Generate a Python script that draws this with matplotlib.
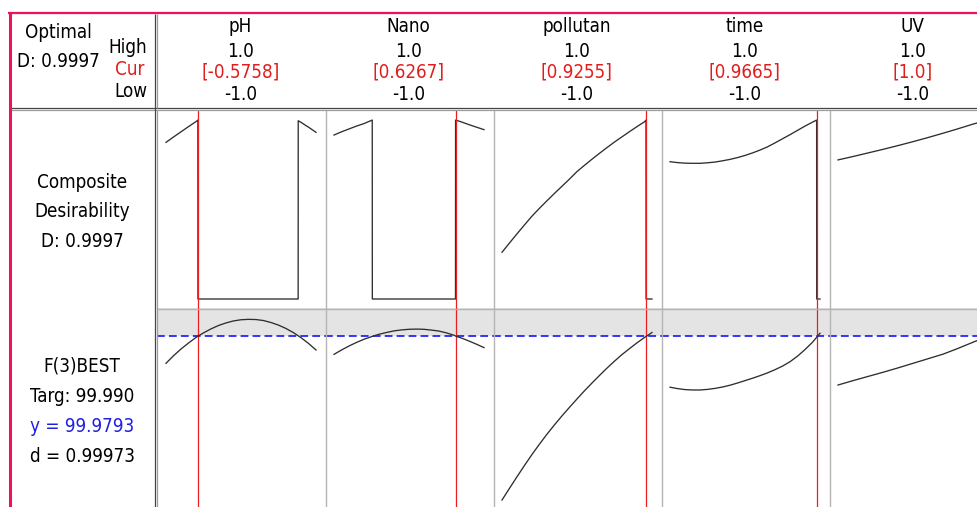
import matplotlib
matplotlib.use("Agg")
import matplotlib.pyplot as plt
from matplotlib.lines import Line2D

plt.rcParams['lines.scale_dashes'] = False

# ---------------- data ----------------
factors = ["pH", "Nano", "pollutan", "time", "UV"]
high = [1.0, 1.0, 1.0, 1.0, 1.0]
low = [-1.0, -1.0, -1.0, -1.0, -1.0]
cur = [-0.5758, 0.6267, 0.9255, 0.9665, 1.0]
cur_labels = ["[-0.5758]", "[0.6267]", "[0.9255]", "[0.9665]", "[1.0]"]

composite_D = 0.9997
response_name = "F(3)BEST"
target = 99.990
y_pred = 99.9793
d_resp = 0.99973

# composite desirability traces (factor setting, desirability)
pH_dx = [-1.0, -0.9, -0.8, -0.7, -0.6, -0.575, -0.574, 0.762, 0.763, 0.8, 0.876, 0.9, 1.0]
pH_dy = [0.875, 0.905, 0.934, 0.963, 0.991, 0.9997, 0.0, 0.0, 0.996, 0.987, 0.966, 0.960, 0.931]
nano_dx = [-1.0, -0.9, -0.8, -0.7, -0.6, -0.49, -0.489, 0.62, 0.621, 0.7, 0.8, 0.9, 1.0]
nano_dy = [0.916, 0.934, 0.950, 0.966, 0.980, 0.9997, 0.0, 0.0, 0.9997, 0.989, 0.974, 0.960, 0.946]
poll_dx = [-1.0, -0.9, -0.8, -0.7, -0.6, -0.5, -0.4, -0.3, -0.2, -0.1, 0.0,
           0.1, 0.2, 0.3, 0.4, 0.5, 0.6, 0.7, 0.8, 0.9, 0.92, 0.921, 1.0]
poll_dy = [0.261, 0.313, 0.364, 0.414, 0.463, 0.507, 0.549, 0.590, 0.630, 0.670, 0.712,
           0.747, 0.781, 0.814, 0.846, 0.877, 0.906, 0.935, 0.963, 0.990, 0.9997, 0.0, 0.0]
time_dx = [-1.0, -0.9, -0.8, -0.7, -0.6, -0.5, -0.4, -0.3, -0.2, -0.1, 0.0,
           0.1, 0.2, 0.3, 0.4, 0.5, 0.6, 0.7, 0.8, 0.9, 0.955, 0.956, 1.0]
time_dy = [0.767, 0.762, 0.759, 0.758, 0.758, 0.761, 0.765, 0.772, 0.780, 0.790, 0.802,
           0.816, 0.832, 0.850, 0.872, 0.895, 0.918, 0.942, 0.966, 0.988, 0.9997, 0.0, 0.0]
uv_dx = [-1.0, -0.8, -0.6, -0.4, -0.2, 0.0, 0.2, 0.4, 0.6, 0.8, 1.0]
uv_dy = [0.777, 0.796, 0.816, 0.836, 0.857, 0.879, 0.902, 0.926, 0.951, 0.977, 0.9997]

# predicted response traces (factor setting, F(3)BEST)
pH_rx = [-1.0, -0.9, -0.8, -0.7, -0.6, -0.5758, -0.5, -0.4, -0.3, -0.2, -0.1, 0.0,
         0.1, 0.2, 0.3, 0.4, 0.5, 0.6, 0.7, 0.8, 0.9, 1.0]
pH_ry = [98.62, 99.00, 99.34, 99.64, 99.92, 99.98, 100.15, 100.35, 100.52, 100.65, 100.75, 100.81,
         100.83, 100.82, 100.77, 100.67, 100.54, 100.37, 100.16, 99.91, 99.62, 99.29]
nano_rx = [-1.0, -0.9, -0.8, -0.7, -0.6, -0.5, -0.4, -0.3, -0.2, -0.1, 0.0,
           0.1, 0.2, 0.3, 0.4, 0.5, 0.6, 0.6267, 0.7, 0.8, 0.9, 1.0]
nano_ry = [99.07, 99.29, 99.49, 99.67, 99.83, 99.96, 100.08, 100.17, 100.25, 100.30, 100.33,
           100.34, 100.33, 100.29, 100.24, 100.15, 100.03, 99.98, 99.89, 99.74, 99.58, 99.41]
poll_rx = [-1.0, -0.9, -0.8, -0.7, -0.6, -0.5, -0.4, -0.3, -0.2, -0.1, 0.0,
           0.1, 0.2, 0.3, 0.4, 0.5, 0.6, 0.7, 0.8, 0.9, 0.9255, 1.0]
poll_ry = [91.75, 92.34, 92.92, 93.49, 94.04, 94.56, 95.06, 95.53, 95.98, 96.41, 96.83,
           97.24, 97.63, 98.01, 98.38, 98.73, 99.06, 99.36, 99.65, 99.92, 99.98, 100.17]
time_rx = [-1.0, -0.9, -0.8, -0.7, -0.6, -0.5, -0.4, -0.3, -0.2, -0.1, 0.0,
           0.1, 0.2, 0.3, 0.4, 0.5, 0.6, 0.7, 0.8, 0.9, 0.9665, 1.0]
time_ry = [97.42, 97.35, 97.30, 97.28, 97.28, 97.31, 97.36, 97.43, 97.52, 97.63, 97.75,
           97.87, 98.00, 98.14, 98.30, 98.48, 98.70, 98.98, 99.31, 99.68, 99.98, 100.13]
uv_rx = [-1.0, -0.8, -0.6, -0.4, -0.2, 0.0, 0.2, 0.4, 0.6, 0.8, 1.0]
uv_ry = [97.53, 97.75, 97.96, 98.17, 98.39, 98.62, 98.85, 99.08, 99.37, 99.68, 99.98]

desir_x = [pH_dx, nano_dx, poll_dx, time_dx, uv_dx]
desir_y = [pH_dy, nano_dy, poll_dy, time_dy, uv_dy]
resp_x = [pH_rx, nano_rx, poll_rx, time_rx, uv_rx]
resp_y = [pH_ry, nano_ry, poll_ry, time_ry, uv_ry]

# ---------------- layout ----------------
W, H = 977, 507
fig = plt.figure(figsize=(W / 100, H / 100), dpi=100)
FONT = dict(family="DejaVu Sans", stretch="condensed", size=13.5)
RED = "#e01e1e"
BLUE = "#2020e0"
CURVE = "#2e2e2e"


def rect(x0, y0, x1, y1):
    return [x0 / W, 1 - y1 / H, (x1 - x0) / W, (y1 - y0) / H]


def clean(ax):
    ax.set_xticks([])
    ax.set_yticks([])
    for s in ax.spines.values():
        s.set_visible(False)
    ax.patch.set_alpha(0)


panel_w = 168
lefts = [157 + i * panel_w for i in range(5)]
xlim = (-1.12, 1.12)
dlim = (-9 / 179, 1 + 10 / 179)
rlim = (91.4, 101.4)

for i in range(5):
    l = lefts[i]
    axd = fig.add_axes(rect(l, 110, l + panel_w, 308))
    clean(axd)
    axd.set_xlim(*xlim)
    axd.set_ylim(*dlim)
    axd.plot(desir_x[i], desir_y[i], color=CURVE, lw=0.95, zorder=2)
    axd.axvline(cur[i], color="#ee1c1c", lw=0.9, zorder=3)

    axr = fig.add_axes(rect(l, 308, l + panel_w, 507))
    clean(axr)
    axr.set_xlim(*xlim)
    axr.set_ylim(*rlim)
    axr.axhspan(y_pred, rlim[1], color="#e4e4e4", lw=0, zorder=0)
    axr.axhline(y_pred, color="#1414ff", lw=1.2, linestyle=(0, (5.6, 3.0)), zorder=2)
    axr.axvline(cur[i], color="#ee1c1c", lw=0.9, zorder=3)
    axr.plot(resp_x[i], resp_y[i], color=CURVE, lw=0.95, zorder=4)

# overlay in pixel coordinates for frame lines and text
ov = fig.add_axes([0, 0, 1, 1], zorder=10)
ov.set_xlim(0, W)
ov.set_ylim(H, 0)
ov.set_axis_off()


def hline(y, x0, x1, c, lw):
    ov.add_line(Line2D([x0, x1], [y, y], color=c, lw=lw, solid_capstyle="butt"))


def vline(x, y0, y1, c, lw):
    ov.add_line(Line2D([x, x], [y0, y1], color=c, lw=lw, solid_capstyle="butt"))


# panel separators
for l in lefts[1:]:
    vline(l + 0.5, 110, H, "#b4b4b4", 1.0)
hline(308.5, 157, W, "#b4b4b4", 1.0)
# double lines
hline(107.5, 11, W, "#454545", 0.9)
hline(110.2, 11, W, "#9c9c9c", 0.9)
vline(154.5, 14, H, "#454545", 0.9)
vline(156.8, 110, H, "#9c9c9c", 0.9)
vline(156.8, 14, 107.5, "#9c9c9c", 0.9)
# pink border
PINK = "#f0105f"
vline(9.5, 12, H, PINK, 2.2)
hline(13, 8, W, PINK, 1.6)

# header text
ov.text(58.5, 38, "Optimal", ha="center", va="baseline", **FONT)
ov.text(58.5, 66.7, f"D: {composite_D:.4f}", ha="center", va="baseline", **FONT)
ov.text(147, 53.3, "High", ha="right", va="baseline", **FONT)
ov.text(144, 75, "Cur", ha="right", va="baseline", color=RED, **FONT)
ov.text(147, 97.3, "Low", ha="right", va="baseline", **FONT)

for i in range(5):
    cx = lefts[i] + panel_w / 2 - 0.5
    ov.text(cx, 32.3, factors[i], ha="center", va="baseline", **FONT)
    ov.text(cx, 56.7, f"{high[i]:.1f}", ha="center", va="baseline", **FONT)
    ov.text(cx, 77.3, cur_labels[i], ha="center", va="baseline", color=RED, **FONT)
    ov.text(cx, 100, f"{low[i]:.1f}", ha="center", va="baseline", **FONT)

# row labels
lx = 82
ov.text(lx, 188.3, "Composite", ha="center", va="baseline", **FONT)
ov.text(lx, 217.3, "Desirability", ha="center", va="baseline", **FONT)
ov.text(lx, 246.7, f"D: {composite_D:.4f}", ha="center", va="baseline", **FONT)

ov.text(lx, 371.7, response_name, ha="center", va="baseline", **FONT)
ov.text(lx, 401.7, f"Targ: {target:.3f}", ha="center", va="baseline", **FONT)
ov.text(lx, 431.7, f"y = {y_pred:.4f}", ha="center", va="baseline", color=BLUE, **FONT)
ov.text(lx, 461.7, f"d = {d_resp:.5f}", ha="center", va="baseline", **FONT)

fig.savefig("out.png", dpi=100)
